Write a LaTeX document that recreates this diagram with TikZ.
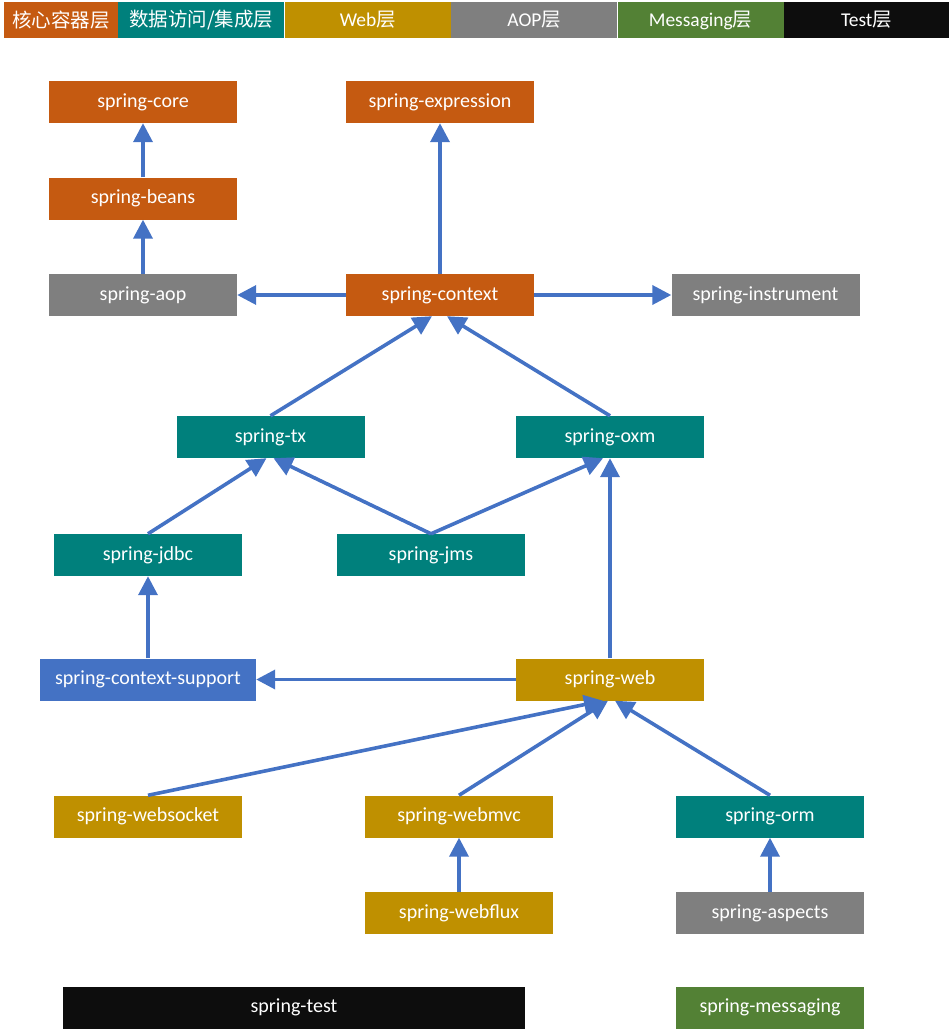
\documentclass[tikz,border=0pt]{standalone}
\usepackage{fontspec}
\usepackage{xcolor}
\usetikzlibrary{arrows.meta,positioning}
\setmainfont{Carlito}
\newfontfamily\cjk{Noto Sans CJK SC}
\definecolor{coreorange}{RGB}{197,90,17}
\definecolor{datateal}{RGB}{0,128,124}
\definecolor{webgold}{RGB}{191,144,0}
\definecolor{aopgray}{RGB}{127,127,127}
\definecolor{msggreen}{RGB}{83,129,53}
\definecolor{testblack}{RGB}{13,13,13}
\definecolor{supblue}{RGB}{68,114,196}
\newcommand{\layername}[1]{#1{\cjk 层}}

\begin{document}
\begin{tikzpicture}[x=1pt,y=-1pt,
        every node/.style={inner sep=0pt,text=white},
        module/.style={rectangle,fill=#1,minimum width=188pt,minimum height=42pt,
          align=center,font=\fontsize{20}{24}\selectfont},
        legend/.style={rectangle,fill=#1,minimum height=36pt,
          align=center,font=\fontsize{19.5}{23}\selectfont},
        arrow/.style={-{Triangle[length=19pt,width=19pt]},line width=3.6pt,draw=supblue}]
        \useasboundingbox (0,0) rectangle (949,1030);
        % legend bar
        \node[legend=coreorange,minimum width=114pt] (lgcore) at (61,20) {{\cjk 核心容器层}};
        \node[legend=datateal,minimum width=166pt,right=0pt of lgcore] (lgdata) {{\cjk 数据访问/集成层}};
        \node[legend=webgold,minimum width=166pt,right=0pt of lgdata] (lgweb) {\layername{Web}};
        \node[legend=aopgray,minimum width=166pt,right=0pt of lgweb] (lgaop) {\layername{AOP}};
        \node[legend=msggreen,minimum width=166pt,right=0pt of lgaop] (lgmsg) {\layername{Messaging}};
        \node[legend=testblack,minimum width=165pt,right=0pt of lgmsg] (lgtest) {\layername{Test}};
        % modules
        \node[module=coreorange] (core) at (143,102) {spring-core};
        \node[module=coreorange] (expr) at (440,102) {spring-expression};
        \node[module=coreorange] (beans) at (143,198.5) {spring-beans};
        \node[module=aopgray] (aop) at (143,295) {spring-aop};
        \node[module=coreorange] (context) at (440,295) {spring-context};
        \node[module=aopgray] (instr) at (765.5,295) {spring-instrument};
        \node[module=datateal] (tx) at (270.5,437) {spring-tx};
        \node[module=datateal] (oxm) at (610,437) {spring-oxm};
        \node[module=datateal] (jdbc) at (148,555) {spring-jdbc};
        \node[module=datateal] (jms) at (431,555) {spring-jms};
        \node[module=supblue,minimum width=216pt] (ctxsup) at (148,679.5) {spring-context-support};
        \node[module=webgold] (web) at (610,679.5) {spring-web};
        \node[module=webgold] (wsock) at (148,816.5) {spring-websocket};
        \node[module=webgold] (webmvc) at (459,816.5) {spring-webmvc};
        \node[module=datateal] (orm) at (770,816.5) {spring-orm};
        \node[module=webgold] (webflux) at (459,913) {spring-webflux};
        \node[module=aopgray] (aspects) at (770,913) {spring-aspects};
        \node[module=testblack,minimum width=462pt] (test) at (294,1007.5) {spring-test};
        \node[module=msggreen] (msg) at (770,1007.5) {spring-messaging};
        % dependencies
        \draw[arrow] (beans) -- (core);
        \draw[arrow] (aop) -- (beans);
        \draw[arrow] (context) -- (expr);
        \draw[arrow] (context) -- (aop);
        \draw[arrow] (context) -- (instr);
        \draw[arrow] (tx.north) -- ([xshift=-8pt]context.south);
        \draw[arrow] (oxm.north) -- ([xshift=7pt]context.south);
        \draw[arrow] (jdbc.north) -- ([xshift=-4pt]tx.south);
        \draw[arrow] (jms.north) -- ([xshift=3pt]tx.south);
        \draw[arrow] (jms.north) -- ([xshift=-7pt]oxm.south);
        \draw[arrow] (web) -- (oxm);
        \draw[arrow] (web) -- (ctxsup);
        \draw[arrow] (ctxsup) -- (jdbc);
        \draw[arrow] (wsock.north) -- ([xshift=-7pt]web.south);
        \draw[arrow] (webmvc.north) -- ([xshift=-2pt]web.south);
        \draw[arrow] (orm.north) -- ([xshift=5pt]web.south);
        \draw[arrow] (webflux) -- (webmvc);
        \draw[arrow] (aspects) -- (orm);
      \end{tikzpicture}
\end{document}
